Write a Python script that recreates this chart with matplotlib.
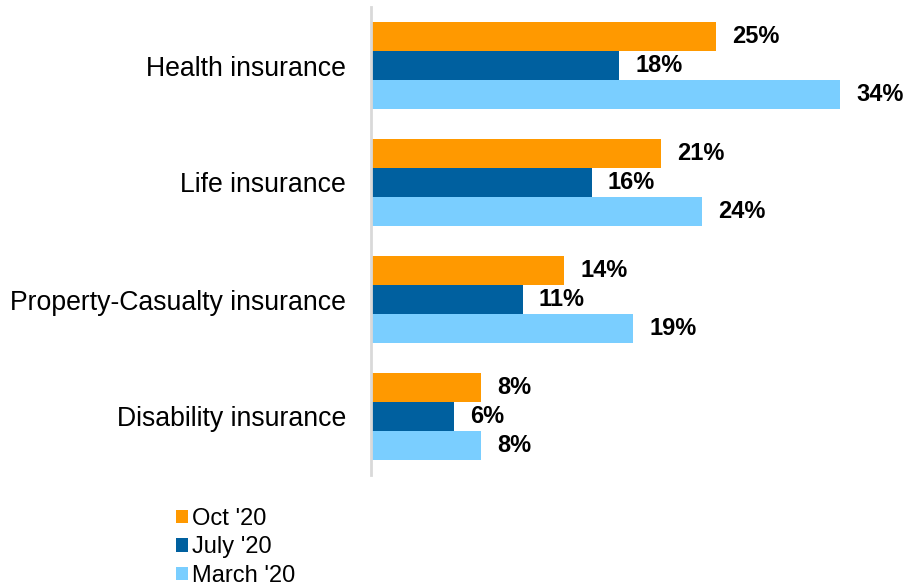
import numpy as np
import matplotlib.pyplot as plt

plt.rcParams["font.family"] = ["Liberation Sans", "DejaVu Sans"]

# Survey data
categories = ["Health insurance", "Life insurance",
              "Property-Casualty insurance", "Disability insurance"]
periods = ["Oct '20", "July '20", "March '20"]
oct_20 = [25, 21, 14, 8]
july_20 = [18, 16, 11, 6]
march_20 = [34, 24, 19, 8]
series = [oct_20, july_20, march_20]
colors = ["#FF9900", "#00609F", "#7ACEFF"]

fig = plt.figure(figsize=(9.05, 5.86), dpi=100)
ax = fig.add_axes([371 / 905, 1 - 475 / 586, 534 / 905, 468 / 586])

y = np.arange(len(categories))
h = 0.248
for i, (vals, col, lab) in enumerate(zip(series, colors, periods)):
    pos = y + (i - 1) * h
    ax.barh(pos, vals, height=h, color=col, label=lab)
    for p, v in zip(pos, vals):
        ax.annotate(f"{v}%", (v, p), xytext=(11.5, 0), textcoords="offset points",
                    va="center", ha="left", fontsize=17, fontweight="bold")

ax.set_ylim(3.5, -0.5)
ax.set_xlim(0, 534 / 13.8)
ax.set_yticks(y)
ax.set_yticklabels(categories, fontsize=19.2)
ax.tick_params(axis="y", length=0, pad=18)
ax.set_xticks([])
for s in ["top", "right", "bottom"]:
    ax.spines[s].set_visible(False)
ax.spines["left"].set_color("#d9d9d9")
ax.spines["left"].set_linewidth(2)

ax.legend(loc="upper left", bbox_to_anchor=(164 / 905, 1 - 496 / 586),
          bbox_transform=fig.transFigure, frameon=False, fontsize=17,
          handlelength=0.5, handleheight=0.5, handletextpad=0.2,
          labelspacing=0.28, borderpad=0)

fig.savefig("out.png", dpi=100)
